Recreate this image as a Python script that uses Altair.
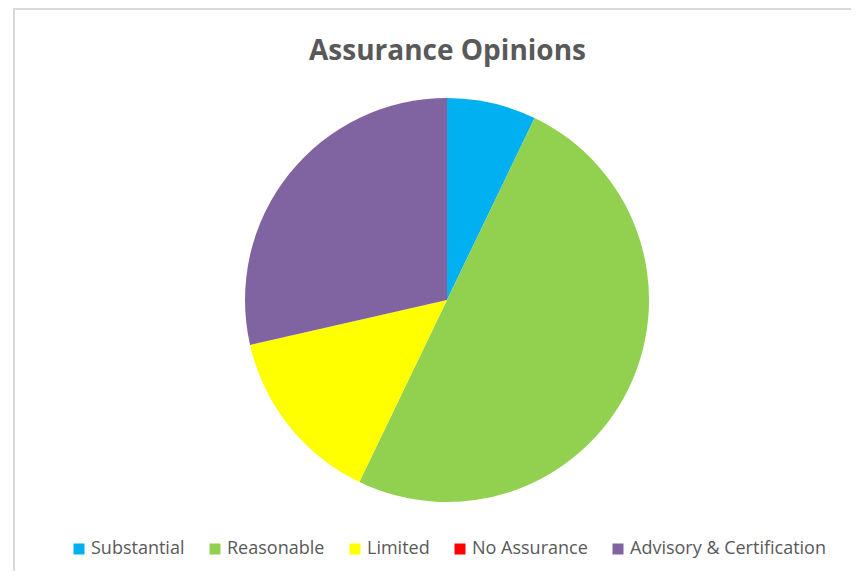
import altair as alt
import pandas as pd

title_text = ["Assurance Opinions"]
categories = ["Substantial", "Reasonable", "Limited", "No Assurance", "Advisory & Certification"]
counts = [1, 7, 2, 0, 4]
colors = ["#00B0F0", "#92D050", "#FFFF00", "#FF0000", "#8064A2"]

df = pd.DataFrame({"Opinion": categories, "Count": counts, "idx": list(range(len(categories)))})
tdf = pd.DataFrame({"t": title_text})

FONT = "Open Sans"
W, H = 838, 563

pie = alt.Chart(df).mark_arc(radius=202, stroke=None).encode(
    theta=alt.Theta("Count:Q", stack=True),
    order=alt.Order("idx:Q"),
    color=alt.Color(
        "Opinion:N",
        scale=alt.Scale(domain=categories, range=colors),
        sort=categories,
        legend=alt.Legend(
            title=None,
            orient="none",
            legendX=57,
            legendY=532,
            direction="horizontal",
            symbolType="square",
            symbolSize=121,
            symbolStrokeWidth=0,
            labelFont=FONT,
            labelFontSize=18,
            labelColor="#595959",
            labelOffset=3,
            columnPadding=21,
            labelLimit=400,
        ),
    ),
    x=alt.value(434),
    y=alt.value(292),
)

title = alt.Chart(tdf).mark_text(
    font=FONT, fontSize=28, fontWeight="bold", color="#595959",
    align="center", baseline="alphabetic",
).encode(text="t:N", x=alt.value(434.5), y=alt.value(52))

left_border = alt.Chart(tdf).mark_rule(color="#D9D9D9", strokeWidth=2).encode(
    x=alt.value(1), y=alt.value(0), y2=alt.value(H)
)
top_border = alt.Chart(tdf).mark_rule(color="#D9D9D9", strokeWidth=2).encode(
    x=alt.value(0), x2=alt.value(W), y=alt.value(1)
)

chart = alt.layer(left_border, top_border, pie, title).properties(
    width=W,
    height=H,
    autosize=alt.AutoSizeParams(type="none"),
    padding={"left": 5, "top": 0, "right": 0, "bottom": 0},
).configure_view(stroke=None)

chart.save("out.html", embed_options={"renderer": "svg", "actions": False})
